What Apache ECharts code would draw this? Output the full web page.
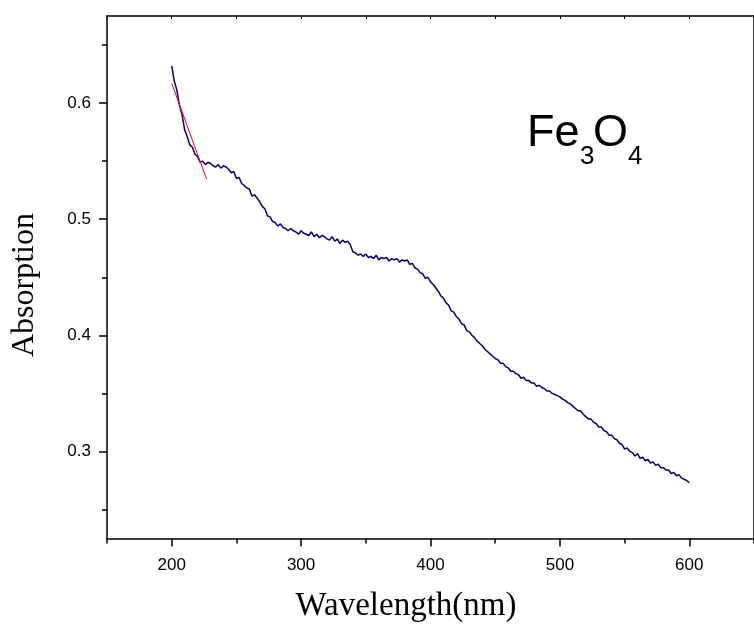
<!DOCTYPE html>
<html><head><meta charset="utf-8">
<script src="https://cdn.jsdelivr.net/npm/echarts@6/dist/echarts.min.js"></script>
<style>html,body{margin:0;padding:0;background:#fff}#c{width:754px;height:625px}</style>
</head><body><div id="c"></div>
<script>
// Sampling grid of the spectrum (nm)
const wlStart = 200, wlStep = 2;
// Absorption, one value every 2 nm from 200 to 600 nm
const absorption = [
  0.632,0.619,0.611,0.598,0.590,0.577,0.571,0.564,0.562,0.556,0.554,0.549,
  0.550,0.547,0.549,0.548,0.546,0.545,0.547,0.544,0.546,0.545,0.543,0.540,0.541,0.535,0.536,0.531,0.529,0.527,0.526,0.520,
  0.521,0.518,0.515,0.511,0.509,0.503,0.502,0.498,0.497,0.494,0.496,0.493,0.492,0.490,0.492,0.490,0.489,0.487,0.490,
  0.488,0.487,0.486,0.489,0.485,0.487,0.484,0.486,0.485,0.483,0.482,0.485,0.481,0.483,0.479,0.482,0.480,0.481,0.478,
  0.472,0.471,0.469,0.470,0.468,0.470,0.467,0.468,0.466,0.469,0.465,0.467,0.466,0.467,0.464,0.466,0.465,0.466,0.463,0.465,
  0.464,0.465,0.461,0.462,0.458,0.457,0.454,0.453,0.449,0.450,
  0.446,0.444,0.441,0.438,0.434,0.432,0.428,0.426,0.421,0.420,0.416,0.414,0.410,0.409,0.404,0.403,0.400,0.398,0.395,0.393,
  0.391,0.388,0.386,0.384,0.382,
  0.380,0.379,0.376,0.376,0.373,0.372,0.369,0.369,0.367,0.366,0.363,0.364,0.361,0.361,0.359,0.359,0.356,0.357,0.355,0.354,
  0.352,0.352,0.350,0.349,0.348,
  0.347,0.345,0.344,0.342,0.341,0.339,0.337,0.335,0.335,0.332,0.330,0.328,0.328,0.325,0.324,0.321,0.321,0.318,0.317,0.314,
  0.314,0.311,0.310,0.307,0.306,
  0.302,0.303,0.300,0.299,0.296,0.298,0.294,0.295,0.292,0.293,0.290,0.291,0.288,0.289,0.286,0.286,0.284,0.284,0.281,0.282,
  0.279,0.280,0.277,0.276,0.275,0.273
];
// Red tangent line end points
const tangentWl = [200, 227];
const tangentAbs = [0.617, 0.5345];
// Tick values
const xMajor = [200, 300, 400, 500, 600];
const xMinor = [150, 250, 350, 450, 550, 650];
const xAll = [150, 200, 250, 300, 350, 400, 450, 500, 550, 600, 650];
const yMajor = [0.3, 0.4, 0.5, 0.6];
const yMinor = [0.25, 0.35, 0.45, 0.55, 0.65];
const xRange = [150, 650];
const yRange = [0.225, 0.675];

const spectrum = absorption.map((v, i) => [wlStart + i * wlStep, v]);
const tangent = tangentWl.map((w, i) => [w, tangentAbs[i]]);

const chart = echarts.init(document.getElementById('c'), null, {renderer: 'canvas'});
const G = {left: 107, top: 16, width: 658, height: 522.5};
const lineBlack = {color: '#000', width: 1.5};
const hidden = {show: false};
const lbl = {fontSize: 17, color: '#000', fontFamily: 'Liberation Sans, Arial, sans-serif'};

chart.setOption({
  animation: false,
  backgroundColor: '#fff',
  grid: [Object.assign({}, G), Object.assign({}, G)],
  xAxis: [
    {gridIndex: 0, type: 'value', min: xRange[0], max: xRange[1], position: 'bottom',
     axisLine: {lineStyle: lineBlack},
     axisTick: {customValues: xMajor, length: 8, lineStyle: lineBlack},
     axisLabel: Object.assign({customValues: xMajor, margin: 18}, lbl),
     splitLine: hidden},
    {gridIndex: 0, type: 'value', min: xRange[0], max: xRange[1], position: 'top',
     axisLine: {lineStyle: lineBlack},
     axisTick: {customValues: xAll, inside: true, length: 3, lineStyle: {color: '#000', width: 1}},
     axisLabel: hidden, splitLine: hidden},
    {gridIndex: 1, type: 'value', min: xRange[0], max: xRange[1], position: 'bottom',
     axisLine: hidden,
     axisTick: {customValues: xMinor, length: 5, lineStyle: lineBlack},
     axisLabel: hidden, splitLine: hidden}
  ],
  yAxis: [
    {gridIndex: 0, type: 'value', min: yRange[0], max: yRange[1], position: 'left',
     axisLine: {lineStyle: lineBlack},
     axisTick: {customValues: yMajor, length: 8, lineStyle: lineBlack},
     axisLabel: Object.assign({customValues: yMajor, margin: 16, formatter: v => v.toFixed(1)}, lbl),
     splitLine: hidden},
    {gridIndex: 0, type: 'value', min: yRange[0], max: yRange[1], position: 'right',
     axisLine: {lineStyle: lineBlack}, axisTick: hidden, axisLabel: hidden, splitLine: hidden},
    {gridIndex: 1, type: 'value', min: yRange[0], max: yRange[1], position: 'left',
     axisLine: hidden,
     axisTick: {customValues: yMinor, length: 5, lineStyle: lineBlack},
     axisLabel: hidden, splitLine: hidden}
  ],
  series: [
    {type: 'line', xAxisIndex: 0, yAxisIndex: 0, data: spectrum, showSymbol: false,
     lineStyle: {color: '#00007f', width: 1.5}, z: 3},
    {type: 'line', xAxisIndex: 0, yAxisIndex: 0, data: tangent, showSymbol: false,
     lineStyle: {color: '#ff0000', width: 1}, z: 4}
  ],
  graphic: [
    {type: 'text', x: 25, y: 285, rotation: Math.PI / 2,
     style: {text: 'Absorption', font: '32px "Liberation Serif", "Times New Roman", serif', fill: '#000', align: 'center', verticalAlign: 'middle'}},
    {type: 'text', x: 406, y: 606,
     style: {text: 'Wavelength(nm)', font: '33px "Liberation Serif", "Times New Roman", serif', fill: '#000', align: 'center', verticalAlign: 'middle'}},
    {type: 'text', x: 527, y: 134,
     style: {text: 'Fe', font: '45px "Liberation Sans", Arial, sans-serif', fill: '#000', align: 'left', verticalAlign: 'middle'}},
    {type: 'text', x: 580, y: 157,
     style: {text: '3', font: '26px "Liberation Sans", Arial, sans-serif', fill: '#000', align: 'left', verticalAlign: 'middle'}},
    {type: 'text', x: 593, y: 134,
     style: {text: 'O', font: '45px "Liberation Sans", Arial, sans-serif', fill: '#000', align: 'left', verticalAlign: 'middle'}},
    {type: 'text', x: 628, y: 157,
     style: {text: '4', font: '26px "Liberation Sans", Arial, sans-serif', fill: '#000', align: 'left', verticalAlign: 'middle'}}
  ]
});
</script>
</body></html>
